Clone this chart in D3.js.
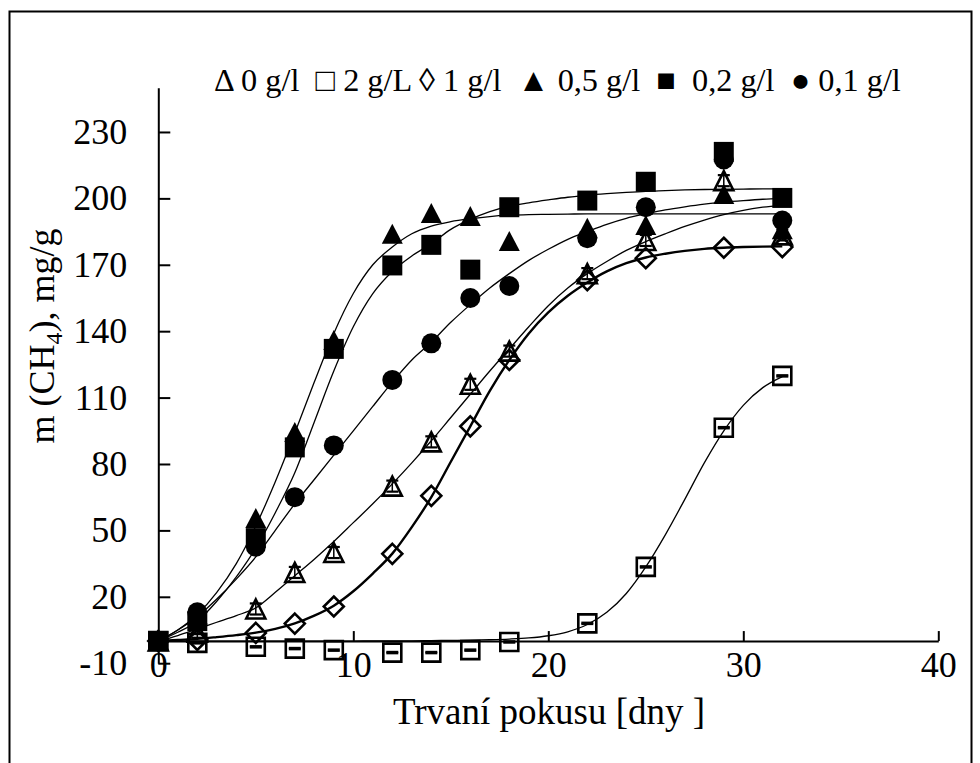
<!DOCTYPE html>
<html>
<head>
<meta charset="utf-8">
<script src="https://cdn.jsdelivr.net/npm/d3@7"></script>
<style>
  body { margin: 0; background: #fff; }
  text { font-family: "Liberation Serif", "Times New Roman", serif; fill: #000; }
</style>
</head>
<body>
<svg id="chart" width="980" height="763"></svg>
<script>
// Measurement days
const days = [0, 2, 5, 7, 9, 12, 14, 16, 18, 22, 25, 29, 32];

// Cumulative CH4 yield, mg/g, per inhibitor dose
const g0  = [0, 4, 14.5, 31, 40, 70, 90, 116, 131, 166, 181, 208, 183.5];
const g2  = [0, -0.8, -2.6, -3.4, -4.1, -5.2, -5.2, -4.1, -0.4, 8, 33.5, 96.4, 119.8];
const g1  = [0, 0.5, 3.7, 7.9, 15.6, 39.4, 65.6, 97, 127, 163, 173, 177.7, 178];
const g05 = [0, 12, 55.6, 94.5, 136, 184, 193.4, 192, 180.7, 186.7, 188, 202, 186];
const g02 = [0, 9, 46.5, 87.5, 132, 169.7, 179, 167.8, 196, 199, 207.5, 221, 200.2];
const g01 = [0, 13, 42.6, 65, 88.4, 118, 134.5, 155, 160.4, 182, 196, 217.6, 190];

// Error bar half-widths for the 0 g/l and 2 g/L series
const errG0 = [0, 2.5, 2.5, 2.5, 2.5, 2.5, 2.5, 2.5, 2.5, 2.5, 2.5, 2.5, 2.5];
const errG2 = [0, 0.3, 0.3, 0.3, 0.3, 0.3, 0.3, 0.3, 0.3, 0.3, 0.3, 0.3, 0.3];

// Fitted kinetic curves, sampled daily
const fitDays = [0,1,2,3,4,5,6,7,8,9,10,11,12,13,14,15,16,17,18,19,20,21,22,23,24,25,26,27,28,29,30,31,32];
const fitG0  = [0,2.5,5.5,8.5,11.5,15,22,29.5,37,45,53.5,62,71,80.5,90.5,101,111.5,122,132,142,151.5,159.5,166,171.5,176.5,180.5,184,187.3,190.2,192.7,194.6,196,197];
const fitG2  = [0,0,0,0,0,0,0,0,0,0,0,0.1,0.1,0.1,0.2,0.3,0.4,0.6,0.9,1.4,2.4,4.2,7.5,13,21.5,33.5,48,64,80.5,95,106.5,114.5,119.5];
const fitG1  = [0,0.5,1,1.8,2.7,3.8,5.5,8,11.5,16,22.5,30.5,39.5,51.5,65,81,97,113,127,139,148.5,156,162,167,170.7,173.3,175,176.3,177.2,177.7,178,178.2,178.3];
const fitG05 = [0,5,12,22,35,52,72,94,117,139,157,170,178,184,187.5,189.5,190.8,191.8,192.4,192.7,192.8,192.9,193,193,193,193,193,193,193,193,193,193,193];
const fitG02 = [0,4,9,18,29,42,58,76,99,122,142,157,167,174,179.5,186,190.5,194,196.5,198,199.3,200.5,201.4,202.1,202.7,203.2,203.5,203.8,204,204.1,204.2,204.3,204.3];
const fitG01 = [0,5,11,19,28,38,50,62,73,84,95,106,117,127,135,144,152,159.5,166,172,177,181.5,185,188.3,191,193,194.8,196.2,197.4,198.3,199,199.6,200];

// Axis ticks
const xTicks = [0, 10, 20, 30, 40];
const yTicks = [-10, 20, 50, 80, 110, 140, 170, 200, 230];

// Legend entries
const legendSymbols = ["\u0394", "\u25A1", "\u25CA", "\u25B2", "\u25A0", "\u25CF"];
const legendLabels  = ["0 g/l", "2 g/L", "1 g/l", "0,5 g/l", "0,2 g/l", "0,1 g/l"];

const series = [
  { values: g0,  fit: fitG0,  err: errG0, shape: "triangle", filled: false, fitWidth: 1.3 },
  { values: g2,  fit: fitG2,  err: errG2, shape: "square",   filled: false, fitWidth: 1.3 },
  { values: g1,  fit: fitG1,  err: null,  shape: "diamond",  filled: false, fitWidth: 2.4 },
  { values: g05, fit: fitG05, err: null,  shape: "triangle", filled: true,  fitWidth: 1.3 },
  { values: g02, fit: fitG02, err: null,  shape: "square",   filled: true,  fitWidth: 1.3 },
  { values: g01, fit: fitG01, err: null,  shape: "circle",   filled: true,  fitWidth: 1.3 }
];

const svg = d3.select("#chart");

// Outer frame
svg.append("rect")
  .attr("x", 9.5).attr("y", 11.5).attr("width", 962).attr("height", 800)
  .attr("fill", "none").attr("stroke", "#000").attr("stroke-width", 2);

const x = d3.scaleLinear().domain([0, 40]).range([158.3, 938.3]);
const y = d3.scaleLinear().domain([-10, 250]).range([663.2, 87.7]);

// Axes (plain hyphen for negative labels)
const fmt = d => String(d);
const gy = svg.append("g").attr("transform", `translate(${x(0)},0)`)
  .call(d3.axisLeft(y).tickValues(yTicks).tickFormat(fmt)
    .tickSizeInner(-12).tickSizeOuter(0).tickPadding(31));
const gx = svg.append("g").attr("transform", `translate(0,${y(0)})`)
  .call(d3.axisBottom(x).tickValues(xTicks).tickFormat(fmt)
    .tickSizeInner(-10).tickSizeOuter(0).tickPadding(10));

[gy, gx].forEach(g => {
  g.attr("font-family", null).attr("font-size", null);
  g.selectAll(".domain, .tick line").attr("stroke", "#000").attr("stroke-width", 2);
  g.selectAll("text").style("font-size", "36px");
});

// Axis titles
svg.append("text")
  .attr("x", 549).attr("y", 724).attr("text-anchor", "middle")
  .style("font-size", "37px")
  .text("Trvaní pokusu [dny ]");

const yTitle = svg.append("text")
  .attr("transform", "translate(54,336) rotate(-90)")
  .attr("text-anchor", "middle")
  .style("font-size", "36px");
yTitle.append("tspan").text("m (CH");
yTitle.append("tspan").attr("dy", 8).style("font-size", "24px").text("4");
yTitle.append("tspan").attr("dy", -8).text("), mg/g");

// Fitted curves
const line = d3.line()
  .x((d, i) => x(fitDays[i]))
  .y(d => y(d))
  .curve(d3.curveMonotoneX);

series.forEach(s => {
  svg.append("path")
    .attr("d", line(s.fit))
    .attr("fill", "none")
    .attr("stroke", "#000")
    .attr("stroke-width", s.fitWidth);
});

// Marker shapes
function markerPath(shape, filled) {
  if (shape === "triangle") {
    const w = filled ? 10.5 : 9.5, h = filled ? 10 : 9.5;
    return `M0,${-h}L${w},${h}L${-w},${h}Z`;
  }
  if (shape === "square") {
    const a = filled ? 10 : 9;
    return `M${-a},${-a}H${a}V${a}H${-a}Z`;
  }
  if (shape === "diamond") {
    const a = 10;
    return `M0,${-a}L${a},0L0,${a}L${-a},0Z`;
  }
  const r = 10;
  return `M${r},0A${r},${r} 0 1,1 ${-r},0A${r},${r} 0 1,1 ${r},0Z`;
}

series.forEach(s => {
  const g = svg.append("g");
  g.selectAll("path.m")
    .data(s.values)
    .join("path")
    .attr("class", "m")
    .attr("transform", (d, i) => `translate(${x(days[i])},${y(d)})`)
    .attr("d", markerPath(s.shape, s.filled))
    .attr("fill", s.filled ? "#000" : "none")
    .attr("stroke", "#000")
    .attr("stroke-width", s.filled ? 0 : 2.6)
    .attr("stroke-linejoin", "miter");

  if (s.err) {
    const eb = g.selectAll("g.e")
      .data(s.values.map((v, i) => ({ v, e: s.err[i], d: days[i] })).filter(o => o.e > 0))
      .join("g").attr("class", "e");
    eb.append("line")
      .attr("x1", o => x(o.d)).attr("x2", o => x(o.d))
      .attr("y1", o => y(o.v - o.e)).attr("y2", o => y(o.v + o.e))
      .attr("stroke", "#000").attr("stroke-width", 1.5);
    [-1, 1].forEach(k => {
      eb.append("line")
        .attr("x1", o => x(o.d) - 6).attr("x2", o => x(o.d) + 6)
        .attr("y1", o => y(o.v + k * o.e)).attr("y2", o => y(o.v + k * o.e))
        .attr("stroke", "#000").attr("stroke-width", 2.2);
    });
  }
});

// Legend line
const legend = svg.append("text")
  .attr("x", 214).attr("y", 91)
  .attr("xml:space", "preserve")
  .style("font-size", "32.3px");
legendSymbols.forEach((sym, i) => {
  const gap = i === 0 ? "" : (i === 2 ? " " : "  ");
  legend.append("tspan").text(gap + sym + " ");
  legend.append("tspan").text((i === 4 ? " " : "") + legendLabels[i]);
});
</script>
</body>
</html>
